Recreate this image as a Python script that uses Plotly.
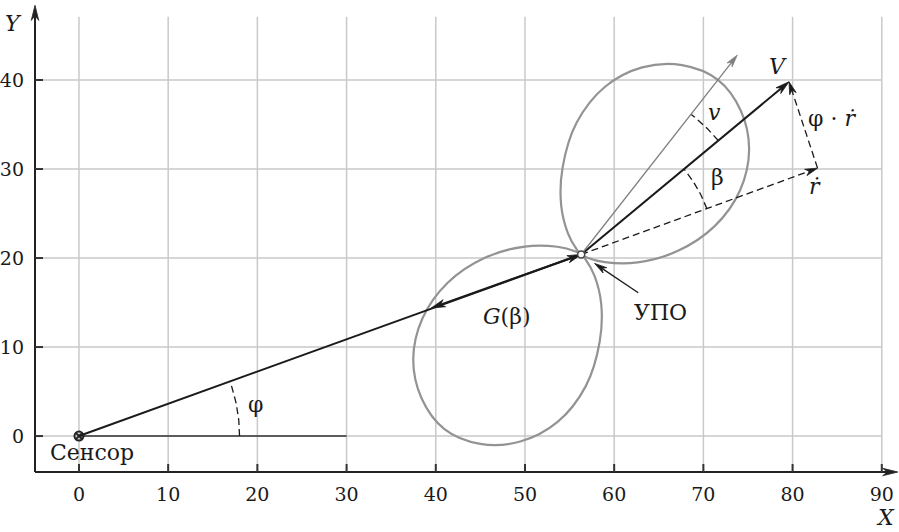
import numpy as np
import plotly.graph_objects as go

# ---- data ----
x_ticks = [0, 10, 20, 30, 40, 50, 60, 70, 80, 90]
y_ticks = [0, 10, 20, 30, 40]
sensor = [0.0, 0.0]
upo = [56.3, 20.4]
v_tip = [79.6, 39.8]
rdot_tip = [82.8, 30.1]
lobe_axis_tip = [73.8, 42.8]
g_tip = [39.5, 14.4]
upo_arrow_tail = [62.7, 16.1]
upo_arrow_head = [57.8, 19.4]
baseline_end = [30.0, 0.0]
# antenna pattern G(beta): lobe radius measured from the UPO point, per angle off the lobe axis
lobe_axis_deg = 52.0
lobe_offsets_deg = [-90, -80, -70, -60, -50, -40, -30, -20, -10, 0,
                    10, 20, 30, 40, 50, 60, 70, 80, 90]
lobe_radius = [0.0, 0.7, 2.8, 6.4, 10.8, 15.3, 19.2, 22.2, 24.1, 24.9,
               24.1, 22.1, 19.0, 14.8, 10.0, 6.0, 2.8, 0.7, 0.0]
# angle arcs: centre, radius, start deg, end deg
phi_arc = [sensor, 18.0, 0.0, 19.9]
beta_arc = [upo, 15.0, 20.0, 39.8]
v_arc = [upo, 20.0, 39.8, 52.0]

AX_X, AX_Y = -4.93, -4.04          # where the drawn axes sit
X0, X1 = -5.49, 91.93
Y0, Y1 = -4.60, 48.99
GRID = "#c9c9c9"
LOBE = "#939393"
INK = "#1a1a1a"
SERIF = "DejaVu Serif, serif"

fig = go.Figure()

shapes = []
for xv in x_ticks:
    shapes.append(dict(type="line", xref="x", yref="y", x0=xv, x1=xv, y0=AX_Y, y1=47.1,
                       line=dict(color=GRID, width=1.5), layer="below"))
for yv in y_ticks:
    shapes.append(dict(type="line", xref="x", yref="y", x0=AX_X, x1=90, y0=yv, y1=yv,
                       line=dict(color=GRID, width=1.5), layer="below"))
for xv in x_ticks:
    shapes.append(dict(type="line", xref="x", yref="y", x0=xv, x1=xv, y0=AX_Y, y1=AX_Y + 0.9,
                       line=dict(color="#333", width=2)))
for yv in y_ticks:
    shapes.append(dict(type="line", xref="x", yref="y", x0=AX_X, x1=AX_X + 0.9, y0=yv, y1=yv,
                       line=dict(color="#333", width=2)))

def lobe(axis_deg):
    a = np.radians(axis_deg + np.array(lobe_offsets_deg, dtype=float))
    r = np.array(lobe_radius)
    return upo[0] + r * np.cos(a), upo[1] + r * np.sin(a)

for ax_deg in (lobe_axis_deg, lobe_axis_deg + 180):
    lx, ly = lobe(ax_deg)
    fig.add_trace(go.Scatter(x=lx, y=ly, mode="lines",
                             line=dict(color=LOBE, width=2.2, shape="spline", smoothing=1.0),
                             hoverinfo="skip", showlegend=False))

def seg(p, q, color=INK, width=2.0, dash=None):
    fig.add_trace(go.Scatter(x=[p[0], q[0]], y=[p[1], q[1]], mode="lines",
                             line=dict(color=color, width=width, dash=dash),
                             hoverinfo="skip", showlegend=False))

def head(tail, tip, color=INK, length=1.55, half=0.42, notch=0.3):
    t = np.array(tip, dtype=float)
    d = t - np.array(tail, dtype=float)
    d = d / np.linalg.norm(d)
    n = np.array([-d[1], d[0]])
    back = t - d * length
    pts = [t, back + n * half, t - d * length * (1 - notch), back - n * half, t]
    fig.add_trace(go.Scatter(x=[p[0] for p in pts], y=[p[1] for p in pts], mode="lines",
                             fill="toself", fillcolor=color, line=dict(color=color, width=0.8),
                             hoverinfo="skip", showlegend=False))

def shorten(tail, tip, amount=0.8):
    t = np.array(tip, dtype=float)
    d = t - np.array(tail, dtype=float)
    d = d / np.linalg.norm(d)
    return list(t - d * amount)

seg(sensor, baseline_end, color="#333", width=1.6)
seg(upo, shorten(upo, rdot_tip), width=1.3, dash="7px,4px")
seg(rdot_tip, shorten(rdot_tip, v_tip), width=1.3, dash="7px,4px")

def arc(spec):
    c, rad, a0, a1 = spec
    t = np.radians(np.linspace(a0, a1, 30))
    fig.add_trace(go.Scatter(x=c[0] + rad * np.cos(t), y=c[1] + rad * np.sin(t), mode="lines",
                             line=dict(color=INK, width=1.3, dash="7px,4px"),
                             hoverinfo="skip", showlegend=False))

arc(phi_arc)
arc(beta_arc)
arc(v_arc)

seg(sensor, shorten(sensor, upo, 0.6))
seg(upo, shorten(upo, v_tip, 0.6))
seg(upo, shorten(upo, g_tip, 0.6))
seg(upo, shorten(upo, lobe_axis_tip, 0.6), color="#808080", width=1.3)
seg(upo_arrow_tail, shorten(upo_arrow_tail, upo_arrow_head, 0.6), width=1.3)

seg([AX_X, AX_Y], [91.0, AX_Y], color="#222", width=2.0)
seg([AX_X, AX_Y], [AX_X, 47.8], color="#222", width=2.0)

head(sensor, upo)
head(upo, v_tip)
head(upo, g_tip)
head(upo, lobe_axis_tip, color="#808080", length=1.4, half=0.36)
head(upo_arrow_tail, upo_arrow_head, length=1.4, half=0.36)
head(upo, rdot_tip, length=1.4, half=0.38)
head(rdot_tip, v_tip, length=1.4, half=0.38)
head([AX_X, AX_Y], [91.8, AX_Y], color="#222", length=1.7, half=0.42)
head([AX_X, AX_Y], [AX_X, 48.4], color="#222", length=1.7, half=0.42)

fig.add_trace(go.Scatter(x=[sensor[0]], y=[sensor[1]], mode="markers",
                         marker=dict(symbol="circle-x-open", size=9, color="#222", line=dict(width=2)),
                         hoverinfo="skip", showlegend=False))
fig.add_trace(go.Scatter(x=[upo[0]], y=[upo[1]], mode="markers",
                         marker=dict(symbol="circle", size=7, color="white", line=dict(width=1.5, color="#444")),
                         hoverinfo="skip", showlegend=False))

ann = []
def label(x, y, text, size=22, xanchor="center"):
    ann.append(dict(x=x, y=y, xref="x", yref="y", text=text, showarrow=False,
                    xanchor=xanchor, yanchor="middle",
                    font=dict(family=SERIF, size=size, color=INK)))

def paper_label(x, y, text, size=22):
    # positioned outside the axis ranges, so use paper coordinates
    ann.append(dict(x=(x - X0) / (X1 - X0), y=(y - Y0) / (Y1 - Y0), xref="paper", yref="paper",
                    text=text, showarrow=False, xanchor="center", yanchor="middle",
                    font=dict(family=SERIF, size=size, color=INK)))

label(78.4, 41.5, "<i>V</i>")
label(84.4, 35.7, "φ · <i>ṙ</i>")
label(82.5, 28.0, "<i>ṙ</i>")
label(71.3, 36.4, "<i>v</i>")
label(71.6, 29.1, "β")
label(47.9, 13.4, "<i>G</i>(β)")
label(62.0, 13.9, "УПО", xanchor="left")
label(19.8, 3.5, "φ")
label(-3.5, -1.8, "Сенсор", size=22, xanchor="left")
paper_label(-7.3, 46.4, "<i>Y</i>")
paper_label(90.4, -9.2, "<i>X</i>")

fig.update_layout(
    width=899, height=532,
    margin=dict(l=30, r=0, t=0, b=55),
    plot_bgcolor="white", paper_bgcolor="white",
    shapes=shapes, annotations=ann,
    xaxis=dict(range=[X0, X1], showgrid=False, zeroline=False, showline=False,
               tickmode="array", tickvals=x_ticks, ticks="", ticklabelstandoff=4,
               tickfont=dict(family=SERIF, size=19, color=INK)),
    yaxis=dict(range=[Y0, Y1], showgrid=False, zeroline=False, showline=False,
               tickmode="array", tickvals=y_ticks, ticks="", ticklabelstandoff=5,
               tickfont=dict(family=SERIF, size=19, color=INK)),
)

fig.write_html("out.html")
